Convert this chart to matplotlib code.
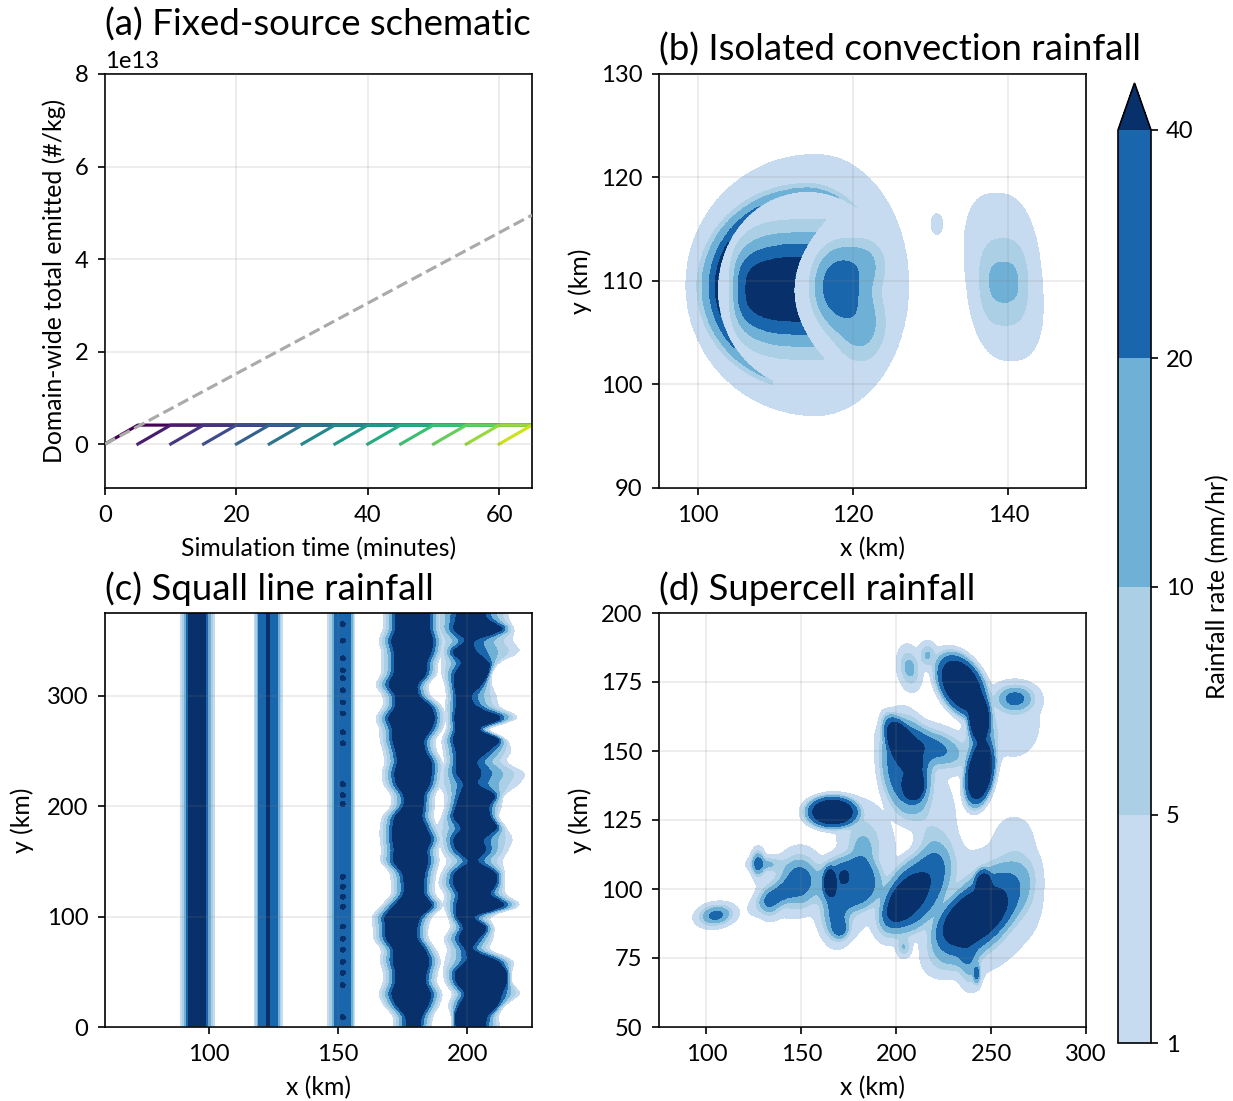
import numpy as np
import matplotlib
matplotlib.use("Agg")
import matplotlib.pyplot as plt

plt.rcParams['font.family'] = ['Lato', 'DejaVu Sans']
plt.rcParams['font.size'] = 11.9
plt.rcParams['xtick.labelsize'] = 11.4
plt.rcParams['ytick.labelsize'] = 11.4

W, H = 1233, 1101
DPI = 150

# ---------- levels / colours ----------
rain_levels = [1, 5, 10, 20, 40]
rain_colors = ['#c6dbef', '#abd0e6', '#6fb0d7', '#1966ad', '#08306b']

# ---------- panel (a) ----------
emit_starts = [0, 5, 10, 15, 20, 25, 30, 35, 40, 45, 50, 55, 60]
emit_rise = 5
emit_level = 0.41e13
emit_end = 65
total_time = [0, 65]
total_emitted = [0, 4.95e13]

# ---------- panel (b): level regions, km ----------
b_outer = (115.17, 109.62, 16.71, 12.0, 12.62)
b_cut1 = (114.1, 109.14, 11.57, 9.5)
b_egg = (114.1, 109.46, 14.22, 9.85, 9.98)
b_egg_r = [1.0, 0.955, 0.89, 0.835]
b_mid_center = (114.1, 109.2)
b_mid_rx = [10.07, 9.5, 8.9, 7.93]
b_mid_ry = [6.76, 5.5, 4.35, 3.1]
b_cut2 = (112.39, 109.1, 0.0888)
b_right_blobs = [(117.96, 109.46, 1.9, 2.25, 30), (120.96, 105.9, 2.2, 2.5, 14), (121.4, 111.7, 2.0, 1.7, 11)]
b_far_rx = [4.93, 3.1, 1.84]
b_far_ry = [8.1, 4.2, 1.95]
b_far_cy = [110.4, 109.9, 109.9]
b_far_cx = 139.4
b_small = (130.8, 115.5, 0.75, 1.0)

# ---------- panel (c): band edges in km ----------
c_rows = np.arange(0, 380, 10)
b4_dl = [176.4,176.4,172.5,170.6,172.5,172.5,171.2,171.9,168.6,168.6,168.0,171.9,175.7,175.7,175.1,171.2,171.9,171.2,171.2,
         171.9,175.7,175.7,172.5,171.9,173.2,172.5,171.2,171.2,169.3,172.5,172.5,169.3,171.9,171.9,171.9,170.6,172.5,172.5]
b4_dr = [181.6,182.2,184.8,186.1,183.5,184.1,185.4,183.5,180.3,180.3,181.6,186.7,182.9,182.9,183.5,184.8,184.1,186.1,184.1,
         182.2,182.9,182.9,185.4,186.1,186.1,183.5,182.9,186.1,187.4,186.1,180.9,180.3,184.1,184.1,186.1,186.7,185.4,185.4]
b5_ol = [193.8,193.8,192.5,194.5,191.3,190.6,191.3,192.5,190.6,193.8,192.5,190.6,191.3,188.7,190,192.5,190,189.3,188,
         190,191.3,191.3,188.7,189.3,191.3,190.6,190,191.9,191.9,191.3,191.9,191.3,190,190,190,189.3,188,187.4]
b5_dl = [195.8,195.1,197.1,199.6,195.8,195.1,200.3,199.6,196.4,199,195.8,195.8,197.1,194.5,195.1,201.6,195.8,194.5,198.4,
         194.5,195.8,197.1,199,195.8,195.8,195.8,194.5,195.8,195.1,195.8,195.8,195.1,195.1,198.4,193.8,200.3,194.5,195.8]
b5_dr = [206.8,207.4,211.9,213.2,215.2,215.2,211.9,200.9,204.2,208,200.9,215.8,208,211.3,211.3,202.9,207.4,205.5,211.9,
         208.7,208,211.3,202.9,205.5,202.9,208,213.2,202.9,214.5,202.9,200.9,205.5,208,208.7,202.9,201.6,215.2,206.8]
b5_or = [212.6,211.9,214.5,221,217.1,217.1,218.4,208,210,210.6,208,221.6,214.5,214.5,214.5,213.2,215.8,217.7,215.2,
         211.9,213.2,213.9,220.3,222.9,214.5,217.1,215.8,206.8,221,211.9,211.3,209.3,209.3,211.9,221,217.1,218.4,215.8]
b3_spots = [9,38,49,59,70,80,91,109,118,127,136,202,210,220,257,267,284,294,305,316,323,334,350,365]
b3_center = 151.9
b2_center = 123.0
b2_ridge = 26
# (outer left, dark left, dark right, outer right, plateau)
c_steady = [(89.1, 92.2, 98.8, 102.5, 41), (117.6, 120, 126, 128.6, 28), (146, 149.5, 154.5, 156.5, 28)]

# ---------- panel (d): blobs x, y, sx, sy, angle (deg), amp, exponent ----------
d_blobs = [
 (105, 90.5, 4.8, 2.0, 5, 26, 2),
 (127.2, 109.2, 1.8, 2.6, 0, 24, 2),
 (131.6, 109, 5, 1.5, 0, 11, 2),
 (149.2, 103.1, 5.5, 5, 0, 28, 2),
 (138.7, 98.3, 7, 2.3, 20, 25, 2),
 (133.4, 94.7, 3, 3, 0, 10, 2),
 (142, 100, 12, 8, 0, 3, 4),
 (175.6, 102, 13, 7.5, 0, 30, 4),
 (168.5, 91, 4, 5, 0, 25, 2),
 (165, 102.5, 2.5, 4.2, 0, 40, 4),
 (172.5, 104.5, 1.5, 1.5, 0, 25, 2),
 (170.3, 85.6, 2.4, 1.9, 0, 24, 2),
 (172, 97, 13, 12, 0, 3, 4),
 (184, 118, 9, 7, -40, 6, 2),
 (182, 112, 4, 5, 0, 11, 2),
 (166.3, 127.9, 10.3, 4.3, 0, 65, 4),
 (203.7, 151.4, 4.5, 10, 41, 65, 4),
 (209, 137.6, 4.4, 4.2, 0, 65, 4),
 (205.4, 144.2, 10, 14, 15, 30, 4),
 (217.7, 151.4, 10.7, 3.6, -10, 28, 2),
 (225, 128, 4, 8, 10, 3, 2),
 (207, 180, 3.0, 4, 20, 13, 2),
 (216.5, 184.7, 2.5, 2.5, 0, 11, 2),
 (234.4, 173.8, 11, 7, -35, 70, 4),
 (243.8, 161.7, 4.4, 6, 0, 60, 4),
 (245, 155, 4, 6, 0, 28, 2),
 (244, 141.8, 5.5, 9, -18.6, 70, 4),
 (262.6, 169, 5.5, 2.6, 0, 26, 2),
 (262, 160, 9, 8, 0, 3, 2),
 (205.4, 96.5, 10, 5, 34, 42, 4),
 (209, 98.3, 15, 9, 34, 30, 4),
 (210, 95, 13, 10, 0, 3.5, 4),
 (222, 110, 6, 6, 30, 12, 2),
 (218, 118, 4, 10, 15, 4, 2),
 (204, 79, 2, 2, 0, 10, 2),
 (195, 88, 4, 4, 0, 5, 2),
 (244, 91, 22, 10, 32, 30, 4),
 (240.6, 89.9, 15, 7, 20, 42, 4),
 (245.9, 102, 3.5, 4, 0, 35, 4),
 (245, 92, 24, 18, 20, 3, 4),
 (238, 74, 3, 5, 10, 14, 2),
 (242.4, 69.3, 1, 2, 0, 25, 2),
 (262, 118, 6, 5, 0, 3.5, 2),
 (268, 100, 5, 8, 0, 3.5, 2),
]

# ---------- layout ----------
def make_ax(fig, x0, y0, x1, y1):
    return fig.add_axes([x0 / W, 1 - y1 / H, (x1 - x0) / W, (y1 - y0) / H])

fig = plt.figure(figsize=(W / DPI, H / DPI), dpi=DPI)
ax_a = make_ax(fig, 105, 74, 532, 488)
ax_b = make_ax(fig, 659, 74, 1086, 488)
ax_c = make_ax(fig, 105, 613, 532, 1027)
ax_d = make_ax(fig, 659, 613, 1086, 1027)
cax = make_ax(fig, 1118, 83, 1151, 1043)

# (a)
cmap = plt.get_cmap('viridis')
for i, t0 in enumerate(emit_starts):
    ax_a.plot([t0, t0 + emit_rise, emit_end], [0, emit_level, emit_level], color=cmap(i / len(emit_starts)), lw=1.5)
ax_a.plot(total_time, total_emitted, color='#aaaaaa', ls='--', lw=1.5, zorder=3)
ax_a.set_xlim(0, 65)
ax_a.set_ylim(-0.95e13, 8e13)
ax_a.set_xticks([0, 20, 40, 60])
ax_a.set_yticks([0, 2e13, 4e13, 6e13, 8e13])
ax_a.set_xlabel('Simulation time (minutes)')
ax_a.set_ylabel('Domain-wide total emitted (#/kg)')

# (b)
xb = np.linspace(95, 150, 1000)
yb = np.linspace(90, 130, 800)
Xb, Yb = np.meshgrid(xb, yb)
Fb = np.zeros_like(Xb)
val = [1.5, 5.5, 10.5, 20.5, 40.5]
cx, cy, rl, rr, ry = b_outer
rx = np.where(Xb < cx, rl, rr)
Fb[((Xb - cx) / rx) ** 2 + ((Yb - cy) / ry) ** 2 < 1] = val[0]
cx, cy, a, b = b_cut1
inside1 = ((Xb - cx) / a) ** 2 + ((Yb - cy) / b) ** 2 < 1
cx, cy, rl, rr, ry = b_egg
rx = np.where(Xb < cx, rl, rr)
reg = np.sqrt(((Xb - cx) / rx) ** 2 + ((Yb - cy) / ry) ** 2)
allow = (~inside1) & ((Yb > 109.1) | (Xb < 109.6))
for rv, v in zip(b_egg_r, val[1:]):
    Fb[allow & (reg < rv)] = v
cx, cy, k = b_cut2
left2 = Xb < cx + k * (Yb - cy) ** 2
cx, cy = b_mid_center
for rx, ry, v in zip(b_mid_rx, b_mid_ry, val[1:]):
    m = np.abs((Xb - cx) / rx) ** 3 + np.abs((Yb - cy) / ry) ** 3 < 1
    Fb[inside1 & left2 & m] = v
G = sum(A * np.exp(-0.5 * (((Xb - x0) / sx) ** 2 + ((Yb - y0) / sy) ** 2)) for x0, y0, sx, sy, A in b_right_blobs)
m = inside1 & ~left2
Fb[m] = np.maximum(Fb[m], G[m])
for i, (rx, ry, cy) in enumerate(zip(b_far_rx, b_far_ry, b_far_cy)):
    xs = Xb - b_far_cx + (0.12 if i == 0 else 0.04) * (Yb - cy)
    Fb[np.abs(xs / rx) ** 2.5 + np.abs((Yb - cy) / ry) ** 2.5 < 1] = val[i]
cx, cy, rx, ry = b_small
Fb[((Xb - cx) / rx) ** 2 + ((Yb - cy) / ry) ** 2 < 1] = val[0]
ax_b.contourf(Xb, Yb, Fb, levels=rain_levels, colors=rain_colors, extend='max')
ax_b.set_xlim(95, 150)
ax_b.set_ylim(90, 130)
ax_b.set_xticks([100, 120, 140])
ax_b.set_yticks([90, 100, 110, 120, 130])
ax_b.set_xlabel('x (km)')
ax_b.set_ylabel('y (km)')

# (c)
xc = np.arange(60, 225.01, 0.1)
yc = np.arange(0, 375.01, 1.0)
Xc, Yc = np.meshgrid(xc, yc)

def ramp(X, ol, l, r, o_r, peak=41.0):
    f = np.minimum((X - ol) / (l - ol), (o_r - X) / (o_r - r))
    return np.interp(f, [0, 0.25, 0.5, 0.75, 1], [1, 5, 10, 20, peak], left=0)

Fc = np.zeros_like(Xc)
for ol, l, r, o_r, pk in c_steady:
    Fc = np.maximum(Fc, ramp(Xc, ol, l, r, o_r, pk))
Fc += b2_ridge * np.exp(-0.5 * ((Xc - b2_center) / 0.55) ** 2)
for s in b3_spots:
    Fc += 30 * np.exp(-0.5 * (((Xc - b3_center) / 0.7) ** 2 + ((Yc - s) / 1.6) ** 2))

def edge(arr):
    e = np.interp(yc, c_rows, arr)
    pad = np.pad(e, 3, mode='edge')
    return np.convolve(pad, np.ones(7) / 7, mode='valid')[:, None]

dl4, dr4 = edge(b4_dl), edge(b4_dr)
Fc = np.maximum(Fc, ramp(Xc, dl4 - 5, dl4, dr4, dr4 + 4.5))
Fc = np.maximum(Fc, ramp(Xc, edge(b5_ol), edge(b5_dl), edge(b5_dr), edge(b5_or)))
ax_c.contourf(Xc, Yc, Fc, levels=rain_levels, colors=rain_colors, extend='max')
ax_c.set_xlim(60, 225)
ax_c.set_ylim(0, 375)
ax_c.set_xticks([100, 150, 200])
ax_c.set_yticks([0, 100, 200, 300])
ax_c.set_xlabel('x (km)')
ax_c.set_ylabel('y (km)')

# (d)
xd = np.linspace(75, 300, 900)
yd = np.linspace(50, 200, 700)
Xd, Yd = np.meshgrid(xd, yd)
Fd = np.zeros_like(Xd)
for x0, y0, sx, sy, ang, A, p in d_blobs:
    t = np.deg2rad(ang)
    u = (Xd - x0) * np.cos(t) + (Yd - y0) * np.sin(t)
    v = -(Xd - x0) * np.sin(t) + (Yd - y0) * np.cos(t)
    Fd += A * np.exp(-0.5 * ((u / sx) ** 2 + (v / sy) ** 2) ** (p / 2))
cs = ax_d.contourf(Xd, Yd, Fd, levels=rain_levels, colors=rain_colors, extend='max')
ax_d.set_xlim(75, 300)
ax_d.set_ylim(50, 200)
ax_d.set_xticks([100, 150, 200, 250, 300])
ax_d.set_yticks([50, 75, 100, 125, 150, 175, 200])
ax_d.set_xlabel('x (km)')
ax_d.set_ylabel('y (km)')

titles = ['(a) Fixed-source schematic', '(b) Isolated convection rainfall', '(c) Squall line rainfall', '(d) Supercell rainfall']
title_pads = [7.3, 6.2, 6.4, 6.4]
for ax, t, pd in zip([ax_a, ax_b, ax_c, ax_d], titles, title_pads):
    ax.grid(True, color='#808080', alpha=0.15, lw=0.9)
    ax.set_axisbelow(False)
    ax.set_title(t, loc='left', fontsize=17.6, pad=pd)
    ax.tick_params(length=3.5, width=0.8, pad=4.5)
    ax.xaxis.labelpad = 5.5
ax_a.yaxis.labelpad = 4
ax_c.yaxis.labelpad = 6

cb = fig.colorbar(cs, cax=cax, extendfrac=47 / 913)
cb.set_ticks(rain_levels)
cb.set_label('Rainfall rate (mm/hr)', labelpad=6)
fig.savefig('out.png', dpi=DPI)
